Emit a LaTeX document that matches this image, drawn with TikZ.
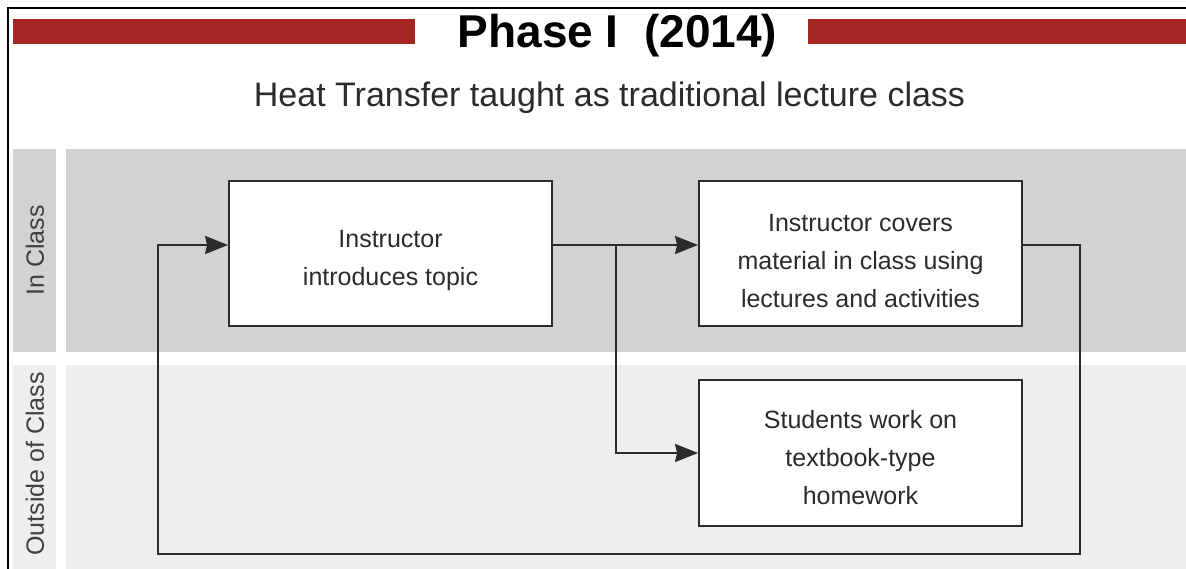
\documentclass[tikz,border=0pt]{standalone}
\usepackage{fontspec}
\setmainfont{Liberation Sans}
\usetikzlibrary{arrows.meta}
\definecolor{barred}{HTML}{A32623}
\definecolor{bandA}{HTML}{D1D2D2}
\definecolor{bandB}{HTML}{EDEEEE}
\definecolor{ink}{HTML}{2B2B2B}
\newcommand\mytopgap[1]{\rule{0pt}{#1}}
\tikzset{
  stepbox/.style={draw=ink, line width=1.9pt, fill=white, minimum width=323pt, align=center,
    font=\fontsize{25}{38}\selectfont, text=ink, inner sep=0pt},
  conn/.style={draw=ink, line width=1.9pt},
  arr/.style={conn, -{Stealth[length=23pt,width=18pt,inset=2pt]}},
  lane/.style={font=\fontsize{25}{30}\selectfont, text=ink!90, rotate=90},
}
\begin{document}
\begin{tikzpicture}[x=1pt,y=-1pt]
\useasboundingbox (0,0) rectangle (1186,569);
% frame
\draw[line width=2.2pt, black] (8,569) -- (8,8) -- (1186,8);
% red bars
\fill[barred] (13,19) rectangle (415,44);
\fill[barred] (808,19) rectangle (1186,44);
% title
\node[anchor=base, font=\fontsize{46}{50}\selectfont\bfseries, text=black] (title) at (617.5,48) {Phase I\ \ (2014)};
\node[anchor=base, font=\fontsize{34}{40}\selectfont, text=ink] (sub) at (609.5,107) {Heat Transfer taught as traditional lecture class};
% bands
\fill[bandA] (13,149) rectangle (56,352);
\fill[bandA] (66,149) rectangle (1186,352);
\fill[bandB] (13,365) rectangle (56,569);
\fill[bandB] (66,365) rectangle (1186,569);
\node[lane] (lin) at (35,250.5) {In Class};
\node[lane] (lout) at (35,464) {Outside of Class};
% boxes
\node[stepbox, minimum height=145pt] (b1) at (390.5,253.5) {\mytopgap{32pt}Instructor\\introduces topic};
\node[stepbox, minimum height=145pt] (b2) at (860.5,253.5) {\mytopgap{33pt}Instructor covers\\material in class using\\lectures and activities};
\node[stepbox, minimum height=146pt] (b3) at (860.5,453) {\mytopgap{28pt}Students work on\\textbook-type\\homework};
% connectors
\coordinate (ay) at (0,245);
\coordinate (j) at (616,245);
\coordinate (cR) at (1080,554);
\coordinate (cL) at (158,554);
\draw[arr] (b1.east |- ay) -- (b2.west |- ay);
\draw[arr] (j) |- (b3.west);
\draw[arr] (b2.east |- ay) -| (cR) -- (cL) |- (b1.west |- ay);
\end{tikzpicture}
\end{document}
